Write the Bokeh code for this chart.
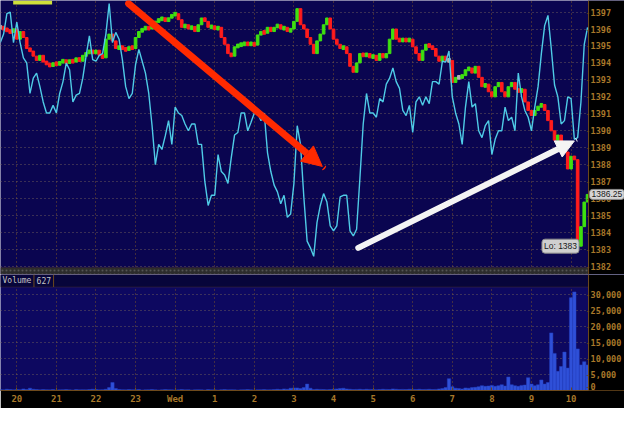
from bokeh.plotting import figure
from bokeh.layouts import column
from bokeh.models import (Range1d, FixedTicker, Arrow, NormalHead, Label, Grid,
                          BoxAnnotation, Span, ColumnDataSource)
from bokeh.embed import file_html
from bokeh.resources import INLINE

# ---------------- data ----------------
bar_index = list(range(-5, 174))          # 5-minute bars, 0 = 20:00
hour_ticks = [0, 12, 24, 36, 48, 60, 72, 84, 96, 108, 120, 132, 144, 156, 168]
hour_labels = ["20", "21", "22", "23", "Wed", "1", "2", "3", "4", "5", "6", "7", "8", "9", "10"]

price_close = [
    1396.1, 1396.0, 1395.9, 1395.8, 1396.0,
    1395.4, 1395.85, 1395.5, 1394.85, 1394.7, 1394.4, 1394.15, 1394.45, 1394.05, 1393.95,
    1393.8, 1394.0, 1393.9, 1394.05, 1394.15, 1394.0, 1394.15, 1394.05, 1394.3, 1394.1,
    1394.45, 1394.55, 1394.75, 1394.55, 1394.75, 1394.45, 1394.3, 1395.4, 1395.7, 1395.3,
    1394.85, 1394.95, 1394.85, 1394.75, 1394.95, 1394.85, 1395.5, 1395.85, 1396.0, 1396.1,
    1396.0, 1396.25, 1396.45, 1396.55, 1396.65, 1396.45, 1396.65, 1396.85, 1396.9, 1396.55,
    1396.1, 1396.25, 1396.0, 1396.15, 1395.85, 1396.25, 1396.65, 1396.45, 1396.1, 1396.15,
    1396.0, 1396.1, 1395.5, 1395.1, 1394.55, 1394.4, 1394.95, 1395.05, 1395.1, 1395.15,
    1395.1, 1395.15, 1395.05, 1395.65, 1395.85, 1395.75, 1396.1, 1395.85, 1396.1, 1396.25,
    1396.0, 1396.1, 1395.85, 1396.0, 1396.45, 1397.2, 1396.25, 1396.0, 1395.5, 1395.1,
    1394.55, 1395.3, 1395.7, 1396.25, 1396.65, 1396.0, 1395.4, 1395.1, 1394.85, 1394.95,
    1394.55, 1393.8, 1393.45, 1394.0, 1394.55, 1394.4, 1394.55, 1394.3, 1394.45, 1394.15,
    1394.55, 1394.3, 1394.55, 1395.4, 1396.0, 1395.4, 1395.3, 1395.4, 1395.3, 1395.4,
    1394.95, 1394.55, 1394.15, 1394.75, 1395.1, 1394.95, 1394.85, 1394.4, 1394.1, 1394.4,
    1394.15, 1394.15, 1392.85, 1393.15, 1393.15, 1393.25, 1393.6, 1393.7, 1393.4, 1393.8,
    1393.15, 1392.6, 1392.75, 1392.3, 1392.0, 1392.6, 1392.85, 1392.3, 1392.0, 1392.6,
    1392.85, 1392.45, 1392.3, 1392.45, 1391.7, 1391.2, 1390.9, 1391.2, 1391.45, 1391.55,
    1391.2, 1390.6, 1390.0, 1389.45, 1389.75, 1389.2, 1388.75, 1387.75, 1388.5, 1388.3,
    1383.2, 1384.35, 1385.8, 1386.25,
]

oscillator = [
    1395.2, 1395.7, 1396.9, 1397.0, 1395.2,
    1396.4, 1395.2, 1394.3, 1394.0, 1392.2, 1393.1, 1393.4, 1392.6, 1391.7, 1391.05,
    1391.05, 1391.5, 1391.05, 1392.2, 1392.9, 1394.0, 1393.6, 1391.7, 1392.1, 1392.2,
    1393.1, 1394.4, 1395.6, 1394.2, 1394.1, 1394.45, 1394.55, 1395.7, 1397.5, 1395.2,
    1395.8, 1395.4, 1394.2, 1392.6, 1391.9, 1392.2, 1393.9, 1394.8, 1394.1, 1393.4,
    1392.2, 1390.3, 1388.0, 1389.2, 1388.9, 1389.7, 1390.6, 1389.2, 1391.4, 1391.05,
    1390.9, 1390.4, 1390.0, 1390.4, 1390.4, 1389.2, 1389.2, 1387.0, 1385.6, 1386.2,
    1386.2, 1388.6, 1387.6, 1387.4, 1386.9, 1388.4, 1389.75, 1389.9, 1391.05, 1391.05,
    1390.0, 1390.5, 1391.05, 1391.05, 1390.6, 1391.05, 1388.7, 1387.6, 1386.8, 1386.4,
    1385.7, 1386.2, 1384.9, 1385.1, 1386.9, 1390.3, 1389.2, 1386.1, 1383.5, 1383.1,
    1382.6, 1384.6, 1385.6, 1386.3, 1385.8, 1384.4, 1384.1, 1384.4, 1386.1, 1386.2,
    1386.2, 1384.1, 1383.8, 1384.2, 1387.2, 1390.4, 1392.2, 1391.05, 1391.05, 1390.8,
    1391.9, 1391.7, 1392.75, 1393.1, 1393.7, 1392.9, 1392.5, 1391.2, 1390.9, 1391.5,
    1389.9, 1391.7, 1392.0, 1391.5, 1392.0, 1391.6, 1392.9, 1392.9, 1392.75, 1394.1,
    1394.05, 1394.7, 1392.0, 1391.05, 1390.4, 1389.2, 1391.4, 1392.9, 1391.4, 1391.6,
    1390.0, 1389.6, 1390.3, 1390.6, 1388.6, 1389.5, 1390.0, 1390.0, 1391.4, 1390.6,
    1390.8, 1390.0, 1393.4, 1392.0, 1391.2, 1390.8, 1390.0, 1391.4, 1392.6, 1394.55,
    1396.2, 1396.8, 1394.85, 1392.7, 1392.0, 1390.4, 1390.6, 1392.0, 1391.9, 1389.5,
    1389.6, 1391.7, 1395.1, 1396.1,
]

volume = [
    300, 200, 400, 300, 200,
    300, 250, 500, 300, 700, 400, 300, 200, 300, 250,
    200, 300, 150, 200, 250, 300, 200, 150, 300, 200,
    250, 200, 300, 400, 300, 200, 250, 400, 900, 2500,
    600, 300, 250, 200, 300, 250, 200, 300, 150, 200,
    250, 300, 200, 150, 200, 300, 250, 200, 150, 200,
    300, 200, 250, 150, 200, 250, 200, 150, 300, 200,
    200, 150, 250, 300, 200, 250, 200, 150, 200, 250,
    300, 200, 150, 200, 250, 300, 200, 250, 300, 400,
    300, 500, 400, 700, 800, 800, 600, 900, 2000, 700,
    300, 400, 350, 300, 250, 300, 400, 500, 600, 700,
    500, 400, 300, 350, 400, 300, 400, 350, 300, 250,
    300, 400, 350, 300, 500, 400, 300, 350, 300, 400,
    350, 300, 400, 300, 350, 400, 300, 350, 500, 600,
    900, 3700, 1200, 700, 600, 500, 800, 700, 900, 1000,
    1200, 1500, 1300, 1400, 1600, 1300, 1500, 1800, 1400, 4200,
    1800, 1500, 1300, 1600, 1700, 4000, 2000, 1500, 1800, 3300,
    2000, 2500, 18000, 11600, 6000, 7500, 12000, 7000, 29000, 30800,
    13000, 8000, 9000, 8000,
]

price_ticks = list(range(1382, 1398))
volume_ticks = [0, 5000, 10000, 15000, 20000, 25000, 30000]
last_price = 1386.25
session_low = 1383
last_volume = 627

# ---------------- styling ----------------
NAVY = "#0a0550"
NAVY_VOL = "#0d0860"
TAN = "#a8782a"
BROWN = "#6e4a1c"
FONT = "DejaVu Sans Mono"
X_END = 173.3          # right edge of the plotting area (in bars)

x_range = Range1d(-4.94, 184.2)

# candles: open = previous close
opens = [price_close[0]] + price_close[:-1]
tops, bottoms, colors = [], [], []
for o, c in zip(opens, price_close):
    hi, lo = max(o, c), min(o, c)
    if hi - lo < 0.22:
        mid = (hi + lo) / 2
        hi, lo = mid + 0.11, mid - 0.11
    tops.append(hi)
    bottoms.append(lo)
    colors.append("#3ee010" if c > o else ("#ff1c1c" if c < o else "#b4b4b4"))

src = ColumnDataSource(dict(x=bar_index, top=tops, bottom=bottoms, color=colors,
                            osc=oscillator, vol=volume))


def tag(label):
    # rounded grey price tags, if this Bokeh version supports it
    for name, val in (("padding", 2), ("border_radius", 3)):
        try:
            setattr(label, name, val)
        except Exception:
            pass
    return label


def add_grids(p, yticks):
    for g in p.grid:
        g.visible = False
    p.add_layout(Grid(dimension=0, ticker=FixedTicker(ticks=hour_ticks),
                      grid_line_color="#7a5528", grid_line_dash="1 3"))
    p.add_layout(Grid(dimension=1, ticker=FixedTicker(ticks=yticks),
                      grid_line_color="#6a5a5a", grid_line_dash="1 3"))


def add_right_scale(p, ticks, texts, bottom_tick=None):
    # black scale strip to the right of the plotting area
    p.add_layout(BoxAnnotation(left=X_END, fill_color="#000000", fill_alpha=1,
                               line_color=None))
    p.add_layout(Span(location=X_END, dimension="height", line_color=BROWN,
                      line_width=1))
    for t, s in zip(ticks, texts):
        dy = 4 if t == bottom_tick else 0
        p.add_layout(Label(x=X_END, y=t, x_offset=2, y_offset=dy,
                           text=s, text_baseline="middle", text_align="left",
                           text_color=TAN, text_font=FONT, text_font_size="8.5px",
                           text_font_style="bold"))
        p.add_layout(Label(x=X_END, y=t, x_offset=-3, y_offset=dy,
                           text="-", text_baseline="middle", text_align="left",
                           text_color=BROWN, text_font=FONT, text_font_size="8px"))


# ---------------- price panel ----------------
p1 = figure(width=624, height=274, x_range=x_range, y_range=Range1d(1381.53, 1397.68),
            output_backend="svg", toolbar_location=None, x_axis_location=None,
            y_axis_location=None, min_border=0,
            background_fill_color=NAVY, border_fill_color="#000000",
            outline_line_color=None)
add_grids(p1, price_ticks)

p1.vbar(x="x", top="top", bottom="bottom", width=0.8, color="color", source=src)
p1.line(x="x", y="osc", source=src, line_color="#4fcbe6", line_width=1.4)

# separator band between the panels
p1.add_layout(BoxAnnotation(top=1381.93, right=X_END, fill_color="#2c2c2c", fill_alpha=1,
                            hatch_pattern="dot", hatch_color="#555555", hatch_scale=4,
                            line_color=BROWN, line_width=1))
p1.add_layout(BoxAnnotation(left=-1.1, right=10.7, bottom=1397.45,
                            fill_color="#cfe03a", fill_alpha=1, line_color=None))

p1.add_layout(Arrow(x_start=33.9, y_start=1397.5, x_end=92.6, y_end=1387.9,
                    line_color="#ff2a00", line_width=7, line_cap="round",
                    end=NormalHead(size=20, fill_color="#ff2a00", line_color="#ff2a00")))
p1.add_layout(Arrow(x_start=103.5, y_start=1383.1, x_end=169.0, y_end=1389.4,
                    line_color="#f4f4f4", line_width=6, line_cap="round",
                    end=NormalHead(size=18, fill_color="#f4f4f4", line_color="#f4f4f4")))
p1.add_layout(tag(Label(x=164.8, y=1383.2, text=f"Lo: {session_low}",
                        text_align="center", text_baseline="middle", text_color="#1a1a1a",
                        text_font="Liberation Sans", text_font_size="8.5px",
                        background_fill_color="#cfcfcf", background_fill_alpha=1,
                        border_line_color="#8a8a8a")))

add_right_scale(p1, price_ticks, [str(t) for t in price_ticks])
p1.add_layout(tag(Label(x=X_END, y=last_price, x_offset=1, text=f"{last_price:.2f}",
                        text_align="left", text_baseline="middle", text_color="#1a1a1a",
                        text_font="Liberation Sans", text_font_size="8.5px",
                        background_fill_color="#d6d6d6", background_fill_alpha=1,
                        border_line_color="#8a8a8a")))

# ---------------- volume panel ----------------
p2 = figure(width=624, height=134, x_range=x_range, y_range=Range1d(0, 36250),
            output_backend="svg", toolbar_location=None, y_axis_location=None,
            min_border_left=0, min_border_right=0, min_border_top=0,
            min_border_bottom=18, background_fill_color=NAVY_VOL,
            border_fill_color="#000000", outline_line_color=None)
add_grids(p2, volume_ticks)

p2.xaxis.ticker = FixedTicker(ticks=hour_ticks)
p2.xaxis.major_label_overrides = {t: l for t, l in zip(hour_ticks, hour_labels)}
p2.xaxis.major_label_text_color = TAN
p2.xaxis.major_label_text_font = FONT
p2.xaxis.major_label_text_font_size = "9px"
p2.xaxis.major_label_text_font_style = "bold"
p2.xaxis.axis_line_color = BROWN
p2.xaxis.major_tick_in = 3
p2.xaxis.major_tick_out = 0
p2.xaxis.major_tick_line_color = BROWN
p2.xaxis.minor_tick_line_color = None
p2.xaxis.major_label_standoff = 3

p2.vbar(x="x", top="vol", bottom=0, width=1.0, source=src,
        fill_color="#2f50d8", line_color="#2440c0", line_width=0.5)

# header strip
p2.add_layout(BoxAnnotation(bottom=32325, right=X_END, fill_color="#07053a", fill_alpha=1,
                            line_color=BROWN, line_width=1))
p2.add_layout(BoxAnnotation(left=5.05, right=5.35, bottom=32325,
                            fill_color=BROWN, fill_alpha=1, line_color=None))
p2.add_layout(BoxAnnotation(left=11.0, right=11.3, bottom=32325,
                            fill_color=BROWN, fill_alpha=1, line_color=None))
p2.add_layout(Label(x=-4.94, y=34290, x_offset=2, text="Volume", text_baseline="middle",
                    text_color="#c4c4c4", text_font=FONT, text_font_size="8px"))
p2.add_layout(Label(x=6.0, y=34290, text=str(last_volume), text_baseline="middle",
                    text_color="#c4c4c4", text_font=FONT, text_font_size="8px"))

add_right_scale(p2, volume_ticks, [f"{v:,}" for v in volume_ticks], bottom_tick=0)

layout = column(p1, p2, spacing=0)
open("out.html", "w").write(file_html(layout, INLINE))
